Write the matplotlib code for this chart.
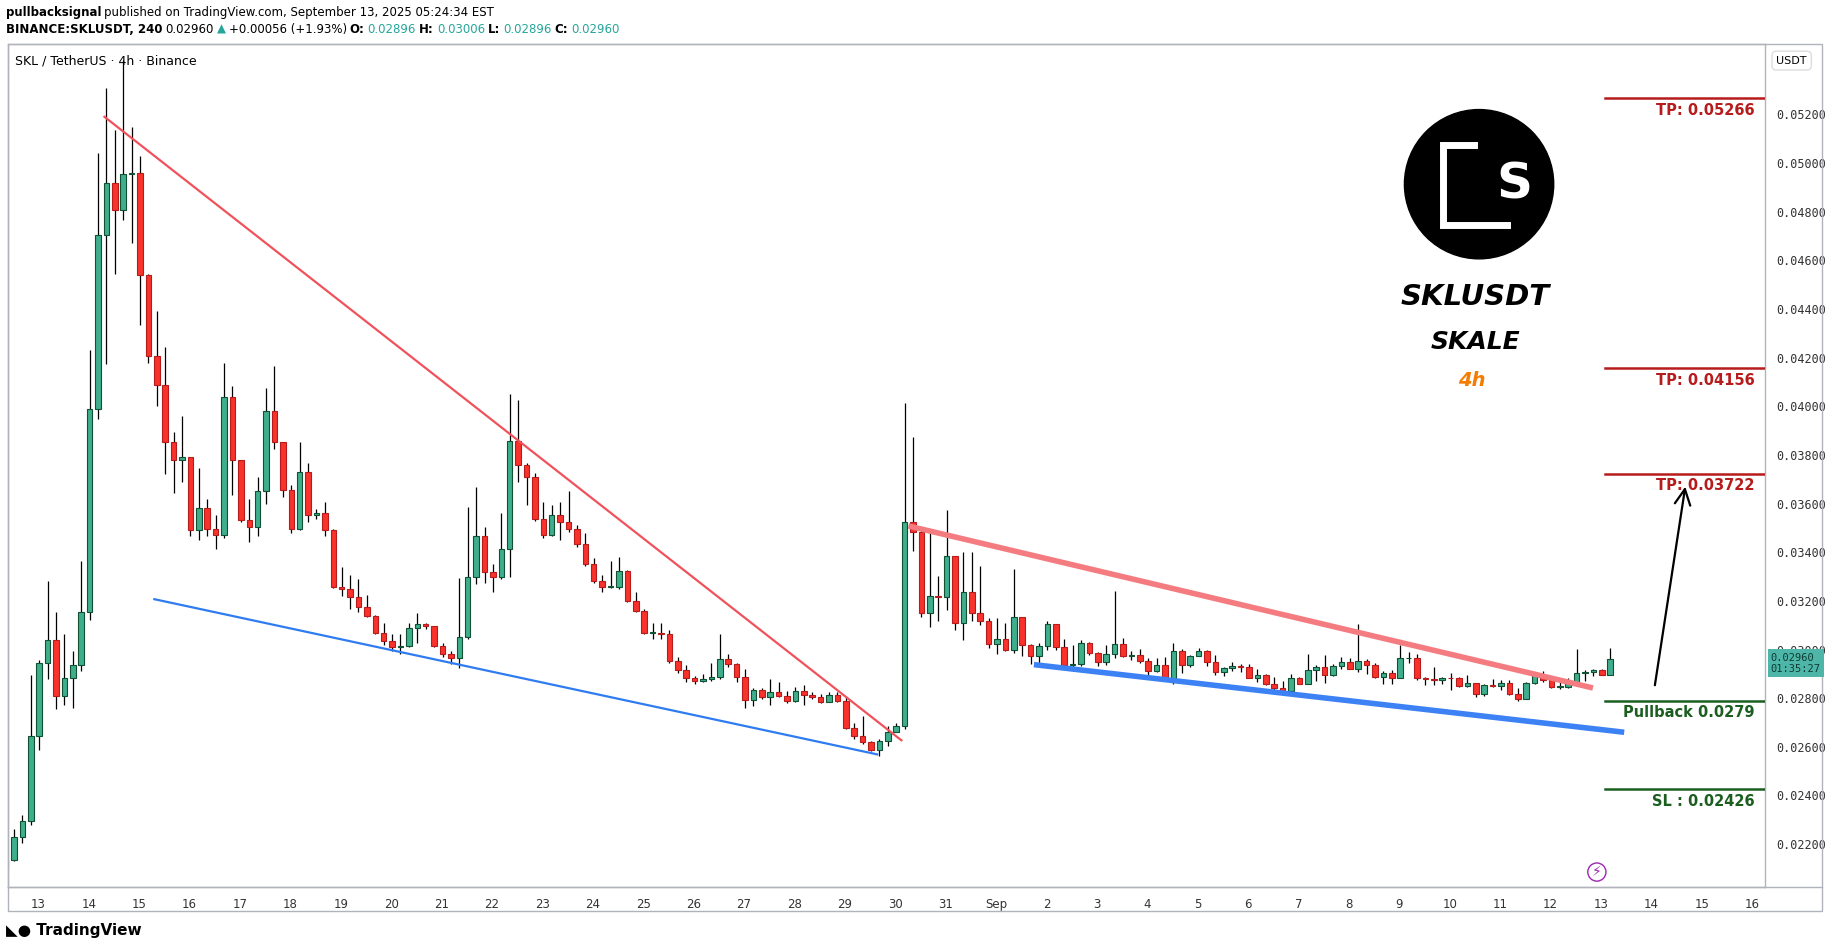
import matplotlib.pyplot as plt
import matplotlib.patches as mpatches
import numpy as np

# 4h candles, prices in 1e-5 USDT; open of each candle = previous close
first_open = 2100
closes = [2136, 2229, 2294, 2645, 2946, 3039, 2808, 2884, 2935, 3155, 3988, 4706, 4919, 4808, 4956, 4960,
          4539, 4208, 4088, 3854, 3780, 3791, 3490, 3583, 3497, 3472, 4039, 3780, 3532, 3502, 3652, 3981,
          3854, 3657, 3497, 3729, 3555, 3560, 3490, 3259, 3247, 3217, 3173, 3136, 3069, 3034, 3009, 3016,
          3090, 3104, 3095, 3016, 2981, 2965, 3051, 3298, 3467, 3317, 3298, 3414, 3858, 3757, 3710, 3537,
          3472, 3553, 3525, 3497, 3433, 3351, 3282, 3259, 3259, 3321, 3201, 3159, 3069, 3069, 3062, 2951,
          2916, 2882, 2872, 2877, 2886, 2960, 2939, 2889, 2794, 2835, 2803, 2826, 2807, 2789, 2831, 2812,
          2803, 2784, 2812, 2789, 2678, 2645, 2618, 2585, 2622, 2659, 2687,
          3524, 3482, 3149, 3222, 3214, 3385, 3110, 3235, 3149, 3118, 3021, 3045, 2999, 3135, 3017, 2972,
          3014, 3104, 3010, 2938, 2939, 3027, 2985, 2947, 2981, 3022, 2972, 2976, 2952, 2910, 2938, 2878,
          2992, 2936, 2972, 2992, 2947, 2906, 2925, 2932, 2928, 2885, 2895, 2857, 2843, 2829, 2881, 2860,
          2915, 2928, 2897, 2932, 2947, 2922, 2954, 2938, 2889, 2902, 2885, 2964, 2964, 2885, 2878, 2875,
          2882, 2881, 2850, 2864, 2818, 2853, 2850, 2864, 2818, 2797, 2861, 2895, 2875, 2847, 2847, 2864,
          2903, 2908, 2914, 2897, 2960]
highs = [2140, 2263, 2321, 2895, 2958, 3282, 3155, 3062, 2993, 3363, 4231, 5041, 5308, 5134, 5423, 5146,
         5030, 4544, 4393, 4243, 3896, 3960, 3791, 3745, 3618, 3553, 4178, 4085, 3780, 3618, 3710, 4076,
         4166, 3849, 3676, 3854, 3768, 3576, 3606, 3495, 3340, 3305, 3289, 3224, 3143, 3108, 3062, 3062,
         3108, 3150, 3108, 3095, 3027, 2993, 3294, 3588, 3669, 3502, 3351, 3560, 4051, 4027, 3768, 3727,
         3606, 3595, 3606, 3652, 3514, 3479, 3375, 3305, 3363, 3382, 3328, 3236, 3166, 3108, 3108, 3081,
         2970, 2935, 2893, 2900, 2946, 3062, 2981, 2946, 2918, 2842, 2842, 2877, 2865, 2831, 2847, 2854,
         2826, 2819, 2826, 2824, 2803, 2696, 2726, 2622, 2634, 2687, 2696,
         4014, 3874, 3496, 3478, 3302, 3572, 3385, 3403, 3399, 3343, 3131, 3128, 3110, 3332, 3135, 3024,
         3027, 3118, 3104, 3045, 3017, 3038, 3031, 2989, 3017, 3239, 3047, 2996, 3003, 2964, 2964, 2968,
         3027, 3003, 2978, 3007, 3000, 2978, 2929, 2947, 2940, 2940, 2922, 2899, 2888, 2871, 2899, 2888,
         2982, 2936, 2978, 2940, 2968, 2964, 3107, 2961, 2945, 2913, 2915, 3017, 2989, 2982, 2888, 2927,
         2888, 2903, 2888, 2895, 2864, 2860, 2878, 2874, 2874, 2843, 2867, 2899, 2911, 2892, 2868, 2881,
         3003, 2917, 2922, 2922, 3006]
lows = [2032, 2132, 2206, 2280, 2588, 2877, 2754, 2773, 2761, 2912, 3120, 3946, 4173, 4544, 4764, 4671,
        4335, 4178, 4000, 3722, 3645, 3687, 3467, 3449, 3467, 3414, 3460, 3636, 3525, 3444, 3467, 3599,
        3826, 3629, 3479, 3490, 3525, 3537, 3467, 3252, 3220, 3166, 3155, 3132, 3062, 3020, 2993, 2981,
        3011, 3027, 3085, 3011, 2970, 2939, 2923, 3044, 3270, 3275, 3236, 3289, 3298, 3687, 3595, 3530,
        3460, 3467, 3451, 3483, 3421, 3345, 3275, 3236, 3252, 3247, 3194, 3155, 3062, 3044, 3044, 2946,
        2905, 2865, 2858, 2865, 2872, 2877, 2928, 2865, 2761, 2766, 2796, 2773, 2803, 2780, 2784, 2773,
        2796, 2780, 2784, 2784, 2673, 2634, 2611, 2581, 2564, 2604, 2673,
        2672, 3406, 3135, 3093, 3117, 3163, 3079, 3038, 3117, 3100, 3006, 2981, 2993, 2986, 2975, 2940,
        2927, 3000, 2999, 2931, 2913, 2933, 2978, 2933, 2938, 2964, 2968, 2958, 2945, 2895, 2906, 2874,
        2860, 2903, 2927, 2972, 2933, 2895, 2892, 2913, 2908, 2881, 2867, 2853, 2832, 2827, 2825, 2857,
        2857, 2871, 2861, 2892, 2922, 2920, 2908, 2899, 2885, 2857, 2860, 2881, 2945, 2875, 2854, 2853,
        2857, 2833, 2847, 2847, 2804, 2811, 2847, 2833, 2815, 2788, 2795, 2857, 2867, 2843, 2839, 2843,
        2861, 2871, 2892, 2895, 2896]

day_ticks = list(range(13, 48))
day_labels = [str(d) for d in range(13, 32)] + ["Sep"] + [str(d) for d in range(2, 17)]
price_ticks = [0.022, 0.024, 0.026, 0.028, 0.030, 0.032, 0.034, 0.036, 0.038,
               0.040, 0.042, 0.044, 0.046, 0.048, 0.050, 0.052]

# drawn trend lines: (day, price) pairs
red_line1 = ([14.31, 30.12], [0.0519, 0.02627])
blue_line1 = ([15.30, 29.64], [0.03207, 0.02569])
red_line2 = ([30.26, 43.84], [0.03508, 0.02842])
blue_line2 = ([32.75, 44.46], [0.02938, 0.02660])
arrow_pts = ([45.06, 45.68], [0.02842, 0.03681])

levels = [0.05266, 0.04156, 0.03722, 0.0279, 0.02426]
level_labels = ["TP: 0.05266", "TP: 0.04156", "TP: 0.03722", "Pullback 0.0279", "SL : 0.02426"]
level_colors = ["#b71c1c", "#b71c1c", "#b71c1c", "#1b5e20", "#1b5e20"]

T0 = 12.35
opens = [first_open] + closes[:-1]
n = len(closes)
t = T0 + np.arange(n) / 6.0
o = np.array(opens) / 1e5
c = np.array(closes) / 1e5
h = np.array(highs) / 1e5
l = np.array(lows) / 1e5

W, H = 1829, 949
fig = plt.figure(figsize=(W / 100, H / 100), dpi=100)
ax = fig.add_axes([7 / 1568, 1 - 761 / 814, (1513 - 7) / 1568, (761 - 38) / 814])

up = c >= o
ax.vlines(t, l, h, color="black", lw=0.9, zorder=2)
body_lo = np.minimum(o, c)
body_h = np.maximum(np.abs(c - o), 0.00003)
ax.bar(t[up], body_h[up], bottom=body_lo[up], width=0.11, color="#3fae8c",
       edgecolor="#0f5132", lw=0.8, zorder=3)
ax.bar(t[~up], body_h[~up], bottom=body_lo[~up], width=0.11, color="#f7332b",
       edgecolor="#b71c1c", lw=0.8, zorder=3)

ax.plot(*red_line1, color="#f0525c", lw=1.6, zorder=4)
ax.plot(*blue_line1, color="#2f7cf0", lw=1.6, zorder=4)
ax.plot(*red_line2, color="#f47c80", lw=4, zorder=4, solid_capstyle="butt")
ax.plot(*blue_line2, color="#3d82f5", lw=4, zorder=4, solid_capstyle="butt")
ax.annotate("", xy=(arrow_pts[0][1], arrow_pts[1][1]), xytext=(arrow_pts[0][0], arrow_pts[1][0]),
            arrowprops=dict(arrowstyle="->", lw=1.6, color="black", mutation_scale=28))

x0, x1 = 44.07, 47.25
for lv, lab, col in zip(levels, level_labels, level_colors):
    ax.plot([x0, x1], [lv, lv], color=col, lw=1.8, zorder=4)
    ax.text(47.05, lv - 0.00018, lab, color=col, fontsize=10.5, fontweight="bold",
            ha="right", va="top", family="DejaVu Sans")

ax.set_xlim(12.4, 47.25)
ax.set_ylim(0.02023, 0.05488)
ax.yaxis.tick_right()
ax.set_yticks(price_ticks)
ax.set_yticklabels([f"{p:.5f}" for p in price_ticks], fontsize=8.5, color="#333333",
                   family="DejaVu Sans Mono")
ax.set_xticks(day_ticks)
ax.set_xticklabels(day_labels, fontsize=8.5, color="#333333")
ax.tick_params(length=0, pad=8)
for s in ax.spines.values():
    s.set_color("#b0b3bb")
    s.set_linewidth(1)

# outer frame of chart pane
fig.add_artist(mpatches.Rectangle((7 / 1568, 1 - 781 / 814), (1562 - 7) / 1568, (781 - 38) / 814,
                                  transform=fig.transFigure, fill=False, ec="#b0b3bb", lw=1))
fig.add_artist(plt.Line2D([7 / 1568, 1562 / 1568], [1 - 761 / 814] * 2, color="#b0b3bb", lw=1))

# logo
lx, ly, r = 1268 / 1568, 1 - 158 / 814, 64 / 1568
fig.add_artist(mpatches.Ellipse((lx, ly), 2 * r, 2 * r * W / H, transform=fig.transFigure,
                                color="black", zorder=5))
bx = [1264 / 1568, 1237 / 1568, 1237 / 1568, 1292 / 1568]
by = [1 - 124 / 814, 1 - 124 / 814, 1 - 193 / 814, 1 - 193 / 814]
fig.add_artist(plt.Line2D(bx, by, color="white", lw=5, zorder=6, solid_joinstyle="miter"))
fig.text(1298 / 1568, 1 - 158 / 814, "S", color="white", fontsize=36, fontweight="bold",
         ha="center", va="center", zorder=7)
fig.text(1265 / 1568, 1 - 255 / 814, "SKLUSDT", fontsize=21, fontweight="bold", style="italic",
         ha="center", va="center")
fig.text(1265 / 1568, 1 - 293 / 814, "SKALE", fontsize=18, fontweight="bold", style="italic",
         ha="center", va="center")
fig.text(1262 / 1568, 1 - 326 / 814, "4h", fontsize=14, fontweight="bold", style="italic",
         color="#f57c00", ha="center", va="center")

# header, pieces chained left to right
fig.canvas.draw()
renderer = fig.canvas.get_renderer()


def chain(parts, y):
    x = 5 / 1568
    for txt, weight, col in parts:
        tx = fig.text(x, y, txt, fontsize=8.5, fontweight=weight, color=col, va="center")
        bb = tx.get_window_extent(renderer)
        x = (bb.x1 + 3) / fig.bbox.width


chain([("pullbacksignal", "bold", "black"),
       ("published on TradingView.com, September 13, 2025 05:24:34 EST", "normal", "black")], 1 - 11 / 814)
chain([("BINANCE:SKLUSDT, 240", "bold", "black"), ("0.02960", "normal", "black"),
       ("\u25b2", "normal", "#26a69a"), ("+0.00056 (+1.93%)", "normal", "black"),
       ("O:", "bold", "black"), ("0.02896", "normal", "#26a69a"),
       ("H:", "bold", "black"), ("0.03006", "normal", "#26a69a"),
       ("L:", "bold", "black"), ("0.02896", "normal", "#26a69a"),
       ("C:", "bold", "black"), ("0.02960", "normal", "#26a69a")], 1 - 25 / 814)

fig.text(13 / 1568, 1 - 52 / 814, "SKL / TetherUS \u00b7 4h \u00b7 Binance", fontsize=9, va="center")
fig.text(1536 / 1568, 1 - 52 / 814, "USDT", fontsize=8, va="center", ha="center",
         bbox=dict(boxstyle="round,pad=0.4", fc="white", ec="#dddddd"))
fig.text(1518 / 1568, 1 - 569 / 814, "0.02960\n01:35:27", fontsize=7.5, color="#0d3b33", va="center",
         family="DejaVu Sans Mono", bbox=dict(boxstyle="square,pad=0.3", fc="#4db6a8", ec="none"))
fig.text(5 / 1568, 1 - 798 / 814, "\u25e3\u25cf TradingView", fontsize=11, fontweight="bold", va="center")
fig.text(1369 / 1568, 1 - 748 / 814, "\u26a1", fontsize=10, color="#9c27b0", ha="center", va="center",
         bbox=dict(boxstyle="circle,pad=0.15", fc="white", ec="#9c27b0"))

fig.savefig("out.png", dpi=100)
